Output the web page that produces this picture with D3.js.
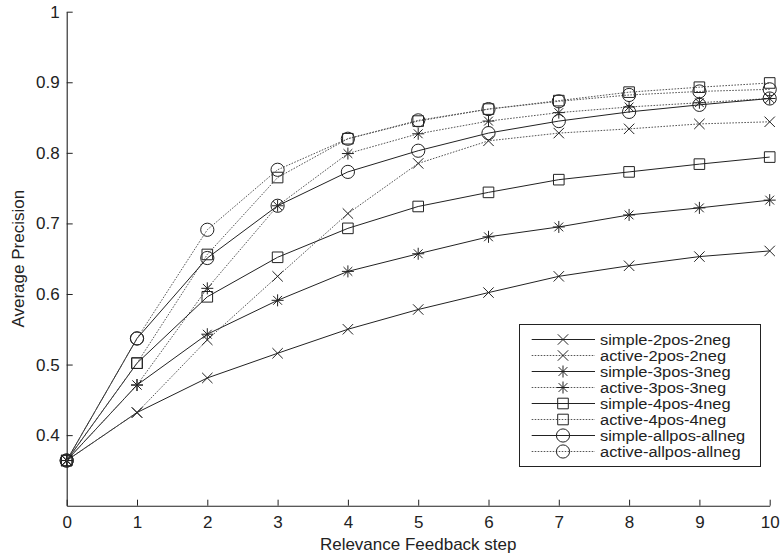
<!DOCTYPE html>
<html><head><meta charset="utf-8">
<script src="https://cdn.jsdelivr.net/npm/d3@7"></script>
<style>body{margin:0;background:#fff}svg{display:block}text{font-family:"Liberation Sans",Arial,sans-serif;fill:#222}</style>
</head><body>
<script>
const steps = [0,1,2,3,4,5,6,7,8,9,10];
const simple2 = [0.364,0.432,0.481,0.516,0.550,0.578,0.602,0.625,0.640,0.653,0.661];
const active2 = [0.364,0.432,0.535,0.625,0.714,0.785,0.817,0.828,0.834,0.841,0.844];
const simple3 = [0.364,0.471,0.543,0.591,0.632,0.657,0.681,0.695,0.712,0.722,0.733];
const active3 = [0.364,0.471,0.608,0.725,0.799,0.827,0.845,0.857,0.865,0.871,0.877];
const simple4 = [0.364,0.502,0.596,0.652,0.693,0.724,0.744,0.762,0.773,0.784,0.794];
const active4 = [0.364,0.502,0.656,0.765,0.820,0.845,0.862,0.874,0.886,0.893,0.899];
const simpleAll = [0.364,0.537,0.651,0.725,0.773,0.803,0.828,0.845,0.858,0.868,0.877];
const activeAll = [0.364,0.537,0.691,0.776,0.820,0.846,0.862,0.873,0.882,0.887,0.890];
const seriesNames = ["simple-2pos-2neg","active-2pos-2neg","simple-3pos-3neg","active-3pos-3neg","simple-4pos-4neg","active-4pos-4neg","simple-allpos-allneg","active-allpos-allneg"];
const seriesValues = [simple2,active2,simple3,active3,simple4,active4,simpleAll,activeAll];
const seriesMarkers = ["x","x","star","star","square","square","circle","circle"];
const seriesDotted = [false,true,false,true,false,true,false,true];
const yTicks = [0.4,0.5,0.6,0.7,0.8,0.9,1];
const xTicks = [0,1,2,3,4,5,6,7,8,9,10];
const xLabel = "Relevance Feedback step";
const yLabel = "Average Precision";

const W = 782, H = 560;
const svg = d3.select("body").append("svg").attr("width", W).attr("height", H);
const x = d3.scaleLinear().domain([0,10]).range([66.7,769.7]);
const y = d3.scaleLinear().domain([0.3,1]).range([505.7,11.7]);

function markerPath(type){
  const p = d3.path();
  if(type==="x"){ const s=5.2; p.moveTo(-s,-s);p.lineTo(s,s);p.moveTo(-s,s);p.lineTo(s,-s); }
  else if(type==="star"){ const s=6, d=4.4; p.moveTo(0,-s);p.lineTo(0,s);p.moveTo(-s,0);p.lineTo(s,0);p.moveTo(-d,-d);p.lineTo(d,d);p.moveTo(-d,d);p.lineTo(d,-d); }
  else if(type==="square"){ const s=5.3; p.rect(-s,-s,2*s,2*s); }
  else if(type==="circle"){ const r=6.6; p.moveTo(r,0); p.arc(0,0,r,0,2*Math.PI); }
  return p.toString();
}

// axes
const gx = svg.append("g").attr("transform",`translate(0,${y(0.3)})`)
  .call(d3.axisBottom(x).tickValues(xTicks).tickSizeInner(-6).tickSizeOuter(0).tickPadding(10).tickFormat(d3.format("d")));
const gy = svg.append("g").attr("transform",`translate(${x(0)},0)`)
  .call(d3.axisLeft(y).tickValues(yTicks).tickSizeInner(-6).tickSizeOuter(0).tickPadding(7).tickFormat(d3.format("~g")));
[gx,gy].forEach(g=>{
  g.selectAll("path.domain").attr("stroke","#222").attr("stroke-width",1.1);
  g.selectAll(".tick line").attr("stroke","#222");
  g.selectAll("text").attr("font-size",17).attr("fill","#222").style("font-family","'Liberation Sans',Arial,sans-serif");
});

svg.append("text").attr("x",(x(0)+x(10))/2).attr("y",550).attr("text-anchor","middle").attr("font-size",17).text(xLabel);
svg.append("text").attr("transform",`translate(24,${(y(0.3)+y(1))/2}) rotate(-90)`).attr("text-anchor","middle").attr("font-size",17).text(yLabel);

// series
const line = d3.line().x((d,i)=>x(steps[i])).y(d=>y(d));
seriesValues.forEach((vals,k)=>{
  const g = svg.append("g");
  g.append("path").attr("d",line(vals)).attr("fill","none")
    .attr("stroke", seriesDotted[k] ? "#555" : "#222")
    .attr("stroke-width", 1)
    .attr("stroke-dasharray", seriesDotted[k] ? "1.6,1.4" : null);
  g.selectAll("path.m").data(vals).enter().append("path").attr("class","m")
    .attr("transform",(d,i)=>`translate(${x(steps[i])},${y(d)})`)
    .attr("d", markerPath(seriesMarkers[k])).attr("fill","none").attr("stroke","#222").attr("stroke-width",1);
});

// legend
const lg = svg.append("g");
lg.append("rect").attr("x",519.5).attr("y",324.5).attr("width",241).attr("height",142).attr("fill","#fff").attr("stroke","#222").attr("stroke-width",1);
seriesNames.forEach((name,k)=>{
  const cy = 339.5 + k*16;
  lg.append("line").attr("x1",531.7).attr("x2",595).attr("y1",cy).attr("y2",cy)
    .attr("stroke", seriesDotted[k] ? "#555" : "#222").attr("stroke-width",1)
    .attr("stroke-dasharray", seriesDotted[k] ? "1.6,1.4" : null);
  lg.append("path").attr("transform",`translate(563,${cy})`).attr("d",markerPath(seriesMarkers[k]))
    .attr("fill","none").attr("stroke","#222").attr("stroke-width",1);
  lg.append("text").attr("transform",`translate(600,${cy}) scale(1.06,1)`).attr("dy","0.35em").attr("font-size",15.5).text(name);
});
</script>
</body></html>
